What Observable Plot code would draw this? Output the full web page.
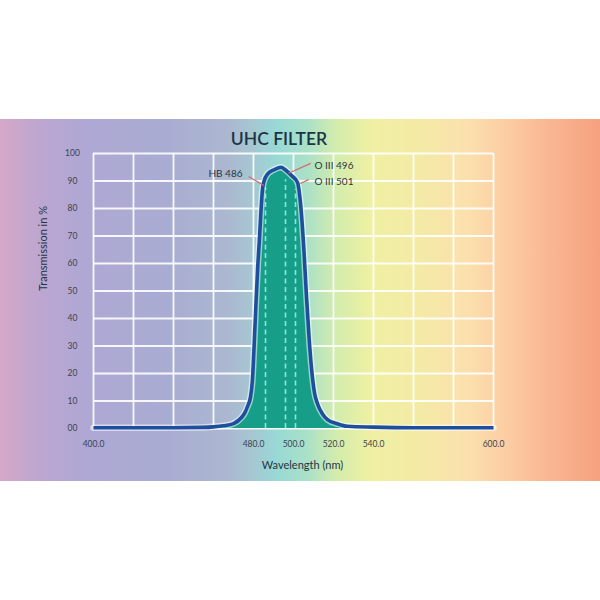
<!DOCTYPE html>
<html>
<head>
<meta charset="utf-8">
<script src="https://cdn.jsdelivr.net/npm/d3@7"></script>
<script src="https://cdn.jsdelivr.net/npm/@observablehq/plot@0.6"></script>
<style>
  html, body { margin: 0; padding: 0; background: #fff; width: 600px; height: 600px; overflow: hidden; }
  #band {
    position: absolute; top: 119px; left: 0; width: 600px; height: 362px;
    background: linear-gradient(to right,
      #d6a8c8 0%, #bba6d1 7%, #aea8d4 15%, #a9acd2 28%, #abb8d0 38%,
      #a6c6d2 42%, #98d9d6 46%, #a9e0c8 51%, #d3ecad 56%, #f0f0a2 62%,
      #f4eaa6 70%, #fbe0ad 78%, #fccba2 85%, #f9b592 92%, #f6a17f 100%);
  }
  #title {
    position: absolute; top: 9px; left: 0; width: 558px; text-align: center;
    font-family: Lato, "Open Sans", sans-serif; font-size: 17.5px; font-weight: 600; color: #1c3545;
    line-height: 22px;
  }
  #chart { position: absolute; top: 0; left: 0; }
</style>
</head>
<body>
<div id="band">
  <div id="chart"></div>
  <div id="title">UHC FILTER</div>
</div>
<script>
// Filter transmission curve (nm, %)
const wavelength = [400, 440, 455, 460, 465, 470, 474, 475.5, 477, 478.5, 479.5, 480.3, 481.2, 482.2, 482.9, 483.8, 484.5, 485.3, 487, 490, 493.8, 496, 499, 502, 503.5, 505.2, 506.5, 507.8, 509, 510.5, 512, 514.4, 517, 522, 527, 540, 560, 600];
const transmission = [0.3, 0.3, 0.4, 0.6, 1.0, 1.8, 4, 5.5, 8, 11.5, 18, 30, 45, 60, 68, 80, 87, 90, 92.5, 94, 95, 94, 92, 89.5, 82, 65, 48, 33, 22, 13, 9, 5.4, 3.2, 1.7, 0.8, 0.5, 0.3, 0.3];

// Emission lines
const lineNames = ["HB 486", "O III 496", "O III 501"];
const lineWavelengths = [486, 496, 501];

// Axis ticks
const xGrid = [400, 420, 440, 460, 480, 500, 520, 540, 560, 580, 600];
const xTickValues = [400, 480, 500, 520, 540, 600];
const yTickValues = [0, 10, 20, 30, 40, 50, 60, 70, 80, 90, 100];
const yTickLabels = ["00", "10", "20", "30", "40", "50", "60", "70", "80", "90", "100"];

const data = wavelength.map((w, i) => ({w, t: transmission[i]}));
function curveAt(x) {
  const i = Math.max(1, d3.bisectLeft(wavelength, x));
  const x0 = wavelength[i - 1], x1 = wavelength[i];
  const t = (x - x0) / (x1 - x0);
  return transmission[i - 1] + t * (transmission[i] - transmission[i - 1]);
}

// Annotation label placement (data units)
const annotations = [
  {text: lineNames[0], lx: 474.5, ly: 92.6, anchor: "end",   x1: 477.5, y1: 91.6, x2: 485.2, y2: 88.4},
  {text: lineNames[1], lx: 510.5, ly: 95.6, anchor: "start", x1: 508.6, y1: 96.4, x2: 497.5, y2: 92.8},
  {text: lineNames[2], lx: 510.5, ly: 89.8, anchor: "start", x1: 507.6, y1: 90.5, x2: 503.4, y2: 89.1}
];

const tickFont = "Lato, 'Open Sans', sans-serif";
const chart = Plot.plot({
  width: 600, height: 362,
  marginLeft: 93, marginRight: 107, marginTop: 34, marginBottom: 53,
  x: {domain: [400, 600], axis: null},
  y: {domain: [0, 100], axis: null},
  style: {background: "transparent", fontFamily: tickFont, overflow: "visible"},
  marks: [
    Plot.ruleX(xGrid, {x: d => d, y1: 0, y2: 100, stroke: "#ffffff", strokeWidth: 1.8, strokeOpacity: 0.9}),
    Plot.ruleY(yTickValues, {y: d => d, x1: 400, x2: 600, stroke: "#ffffff", strokeWidth: 1.8, strokeOpacity: 0.9}),
    Plot.areaY(data, {x: "w", y: "t", fill: "#179e88", curve: "monotone-x"}),
    Plot.ruleX(lineWavelengths, {x: d => d, y1: 0, y2: d => curveAt(d) - 3.5, stroke: "#88e8d8", strokeWidth: 1.6, strokeDasharray: "5,3.5"}),
    Plot.lineY(data, {x: "w", y: "t", stroke: "#ffffff", strokeOpacity: 0.55, strokeWidth: 6.5, curve: "monotone-x"}),
    Plot.lineY(data, {x: "w", y: "t", stroke: "#1d4f9e", strokeWidth: 3.6, curve: "monotone-x", strokeLinecap: "butt"}),
    Plot.link(annotations, {x1: "x1", y1: "y1", x2: "x2", y2: "y2", stroke: "#d46c6c", strokeWidth: 1.2}),
    Plot.text(annotations.filter(d => d.anchor === "end"), {x: "lx", y: "ly", text: "text", textAnchor: "end", fontSize: 10, fill: "#2e3540"}),
    Plot.text(annotations.filter(d => d.anchor === "start"), {x: "lx", y: "ly", text: "text", textAnchor: "start", fontSize: 10, fill: "#2e3540"}),
    Plot.text(yTickValues, {y: d => d, text: (d, i) => yTickLabels[i], frameAnchor: "left", dx: -21, textAnchor: "middle", fontSize: 8.5, fill: "#3a4450"}),
    Plot.text(xTickValues, {x: d => d, text: d => d.toFixed(1), frameAnchor: "bottom", dy: 18, fontSize: 8.5, fill: "#3a4450"}),
    Plot.text(["Wavelength (nm)"], {frameAnchor: "bottom", dx: 9, dy: 40, fontSize: 11, fill: "#1f3545"}),
    Plot.text(["Transmission in %"], {frameAnchor: "left", y: 50, dx: -50, rotate: -90, fontSize: 11, fill: "#1f3545"})
  ]
});
document.getElementById("chart").appendChild(chart);
</script>
</body>
</html>
